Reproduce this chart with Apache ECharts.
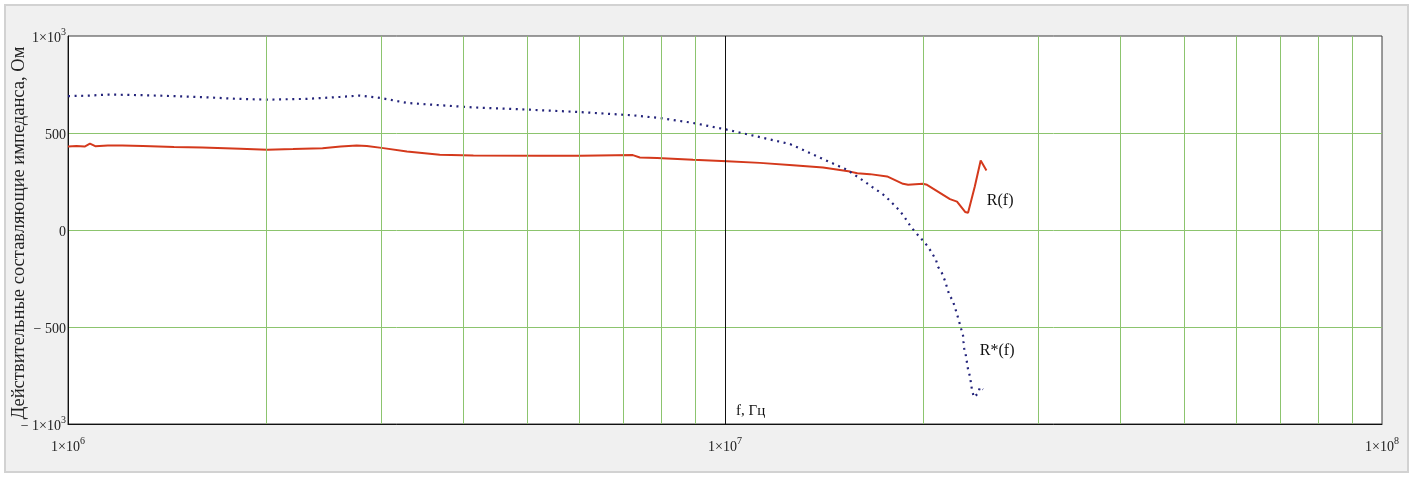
<!DOCTYPE html>
<html>
<head>
<meta charset="utf-8">
<script src="https://cdn.jsdelivr.net/npm/echarts@6/dist/echarts.min.js"></script>
<style>
html,body{margin:0;padding:0;background:#ffffff;}
#chart{width:1413px;height:478px;}
</style>
</head>
<body>
<div id="chart"></div>
<script>
// ---- data ----
const freqR = [1.0e6, 1.03e6, 1.06e6, 1.08e6, 1.10e6, 1.15e6, 1.21e6, 1.30e6, 1.45e6, 1.6e6, 1.83e6, 2.01e6, 2.2e6, 2.44e6, 2.6e6, 2.75e6, 2.85e6, 3.02e6, 3.28e6, 3.68e6, 4.14e6, 5.23e6, 6.02e6, 7.24e6, 7.42e6, 7.88e6, 8.94e6, 1.007e7, 1.13e7, 1.269e7, 1.41e7, 1.55e7, 1.59e7, 1.662e7, 1.765e7, 1.866e7, 1.90e7, 2.0e7, 2.03e7, 2.20e7, 2.255e7, 2.32e7, 2.344e7, 2.40e7, 2.45e7, 2.50e7];
const valR  = [431, 433, 430, 445, 432, 436, 436, 433, 428, 425, 419, 414, 417, 422, 430, 436, 433, 422, 405, 388, 384, 383, 383, 386, 374, 371, 362, 355, 346, 334, 322, 301, 293, 288, 276, 238, 233, 238, 233, 159, 146, 93, 89, 224, 358, 307];

const freqB = [1.0e6, 1.08e6, 1.147e6, 1.213e6, 1.333e6, 1.45e6, 1.627e6, 1.808e6, 2.009e6, 2.311e6, 2.594e6, 2.783e6, 2.985e6, 3.281e6, 3.684e6, 4.135e6, 5.049e6, 6.016e6, 7.244e6, 7.963e6, 8.941e6, 1.007e7, 1.119e7, 1.256e7, 1.41e7, 1.534e7, 1.634e7, 1.674e7, 1.709e7, 1.752e7, 1.789e7, 1.827e7, 1.866e7, 1.919e7, 1.96e7, 2.001e7, 2.037e7, 2.066e7, 2.095e7, 2.11e7, 2.139e7, 2.162e7, 2.177e7, 2.193e7, 2.223e7, 2.24e7, 2.255e7, 2.271e7, 2.287e7, 2.303e7, 2.307e7, 2.313e7, 2.327e7, 2.335e7, 2.344e7, 2.36e7, 2.368e7, 2.377e7, 2.393e7, 2.427e7, 2.444e7, 2.47e7];
const valB  = [690, 693, 698, 697, 694, 690, 684, 676, 672, 676, 686, 693, 681, 655, 643, 632, 620, 608, 591, 577, 552, 517, 482, 443, 366, 310, 248, 222, 202, 176, 145, 114, 78, 16, -21, -55, -86, -119, -155, -190, -222, -262, -295, -331, -367, -402, -434, -470, -508, -543, -577, -612, -650, -683, -719, -755, -790, -827, -862, -843, -810, -822];

const minorFreqs = [2e6, 3e6, 4e6, 5e6, 6e6, 7e6, 8e6, 9e6, 2e7, 3e7, 4e7, 5e7, 6e7, 7e7, 8e7, 9e7];
const markerFreq = 1e7;

const xTickValues = [1e6, 1e7, 1e8];
const xTickLabels = ['{b|1×10}{s|6}', '{b|1×10}{s|7}', '{b|1×10}{s|8}'];
const yTickValues = [-1000, -500, 0, 500, 1000];
const yTickLabels = ['{b|− 1×10}{s|3}', '{b|− 500}', '{b|0}', '{b|500}', '{b|1×10}{s|3}'];

const labelR = {name: 'R(f)', f: 2.46e7, v: 152};
const labelB = {name: 'R*(f)', f: 2.40e7, v: -625};
const yName = 'Действительные составляющие импеданса, Ом';
const xName = 'f, Гц';

// ---- chart ----
const FONT = '"Liberation Serif", "DejaVu Serif", serif';
const GREEN = '#8cc46e';
const rich = {
  b: {fontFamily: FONT, fontSize: 14, color: '#222', verticalAlign: 'bottom', lineHeight: 18},
  s: {fontFamily: FONT, fontSize: 10, color: '#222', verticalAlign: 'top', lineHeight: 18}
};

const chart = echarts.init(document.getElementById('chart'), null, {renderer: 'canvas'});

const option = {
  animation: false,
  backgroundColor: '#ffffff',
  graphic: [
    {type: 'rect', z: -10, shape: {x: 5, y: 5, width: 1403, height: 467},
     style: {fill: '#f0f0f0', stroke: '#d2d2d2', lineWidth: 2}},
    {type: 'text', z: 50, left: 736, top: 404,
     style: {text: xName, font: '15px ' + FONT, fill: '#111'}}
  ],
  grid: {left: 68, top: 36, right: 31, bottom: 54, show: true, backgroundColor: '#ffffff',
         borderColor: '#3a3a3a', borderWidth: 1, containLabel: false, outerBoundsMode: 'none'},
  xAxis: {
    type: 'log', logBase: 10, min: 1e6, max: 1e8,
    axisLine: {show: true, onZero: false, lineStyle: {color: '#111', width: 1}},
    axisTick: {show: false},
    splitLine: {show: false},
    axisLabel: {
      margin: 12,
      formatter: function (v) {
        for (let i = 0; i < xTickValues.length; i++) {
          if (Math.abs(v - xTickValues[i]) / xTickValues[i] < 1e-6) return xTickLabels[i];
        }
        return '';
      },
      rich: rich
    }
  },
  yAxis: {
    type: 'value', min: -1000, max: 1000, interval: 500,
    name: yName, nameLocation: 'middle', nameGap: 39, nameMoveOverlap: false,
    nameTextStyle: {fontFamily: FONT, fontSize: 18.5, color: '#222', padding: [0, 6, 0, 0]},
    axisLine: {show: true, lineStyle: {color: '#111', width: 1}},
    axisTick: {show: false},
    splitLine: {show: true, showMinLine: false, showMaxLine: false, lineStyle: {color: GREEN, width: 1}},
    axisLabel: {
      margin: 2,
      formatter: function (v) {
        const i = yTickValues.indexOf(v);
        return i >= 0 ? yTickLabels[i] : '';
      },
      rich: rich
    }
  },
  series: [
    {
      type: 'line', name: 'grid', data: [], silent: true, z: 1,
      markLine: {
        silent: true, symbol: 'none', animation: false,
        label: {show: false},
        data: minorFreqs.map(f => ({xAxis: f, lineStyle: {color: GREEN, width: 1, type: 'solid'}}))
          .concat([{xAxis: markerFreq, lineStyle: {color: '#111', width: 1, type: 'solid'}}])
      }
    },
    {
      type: 'line', name: 'R(f)', z: 3,
      data: freqR.map((f, i) => [f, valR[i]]),
      showSymbol: false, symbol: 'none',
      lineStyle: {color: '#d4391c', width: 2},
      markPoint: {
        symbol: 'circle', symbolSize: 0,
        label: {show: true, position: 'right', distance: 5, formatter: labelR.name,
                fontFamily: FONT, fontSize: 16, color: '#111'},
        data: [{coord: [labelR.f, labelR.v]}]
      }
    },
    {
      type: 'line', name: 'R*(f)', z: 4,
      data: freqB.map((f, i) => [f, valB[i]]),
      showSymbol: false, symbol: 'none',
      lineStyle: {color: '#23237a', width: 2.2, type: [2, 4.6], cap: 'butt'},
      markPoint: {
        symbol: 'circle', symbolSize: 0,
        label: {show: true, position: 'right', distance: 5, formatter: labelB.name,
                fontFamily: FONT, fontSize: 16, color: '#111'},
        data: [{coord: [labelB.f, labelB.v]}]
      }
    }
  ]
};
chart.setOption(option);
</script>
</body>
</html>
